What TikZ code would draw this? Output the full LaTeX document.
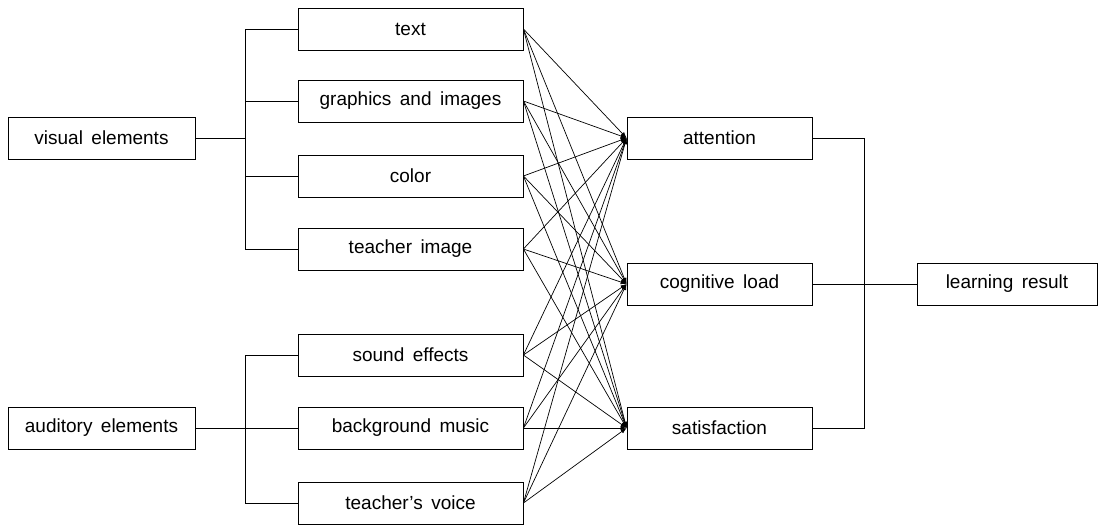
\documentclass[tikz,border=0pt]{standalone}
\usepackage{fontspec}
\setmainfont{Liberation Sans}[WordSpace=1.6]
\usetikzlibrary{arrows.meta}
\tikzset{
  box/.style={draw, line width=0.8pt, minimum height=42pt, inner sep=0pt, font=\fontsize{19}{22}\selectfont},
  link/.style={draw, line width=0.7pt, -{Latex[length=6pt,width=4.5pt]}},
  tree/.style={draw, line width=0.8pt}
}
\begin{document}
\begin{tikzpicture}[x=1pt,y=-1pt]
\useasboundingbox (0,0) rectangle (1099,525);
\node[box, minimum width=187pt] (visual) at (101.5,138) {visual elements};
\node[box, minimum width=187pt] (auditory) at (101.5,428) {auditory elements};

\node[box, minimum width=225pt] (text) at (410.5,29) {text};
\node[box, minimum width=225pt] (graphics) at (410.5,101) {graphics and images};
\node[box, minimum width=225pt] (color) at (410.5,176) {color};
\node[box, minimum width=225pt] (image) at (410.5,249) {teacher image};
\node[box, minimum width=225pt] (sound) at (410.5,355) {sound effects};
\node[box, minimum width=225pt] (music) at (410.5,428) {background music};
\node[box, minimum width=225pt] (voice) at (410.5,503) {teacher's voice};

\node[box, minimum width=185pt] (attention) at (719.5,138) {attention};
\node[box, minimum width=185pt] (load) at (719.5,284) {cognitive load};
\node[box, minimum width=185pt] (satisfaction) at (719.5,428) {satisfaction};

\node[box, minimum width=180pt] (result) at (1007,284) {learning result};

\coordinate (vjoin) at (245,138);
\coordinate (ajoin) at (245,428);
\coordinate (rjoin) at (864,284);

% left brackets
\path[tree] (visual) -- (vjoin);
\path[tree] (text.west) -| (vjoin);
\path[tree] (graphics.west) -| (vjoin);
\path[tree] (color.west) -| (vjoin);
\path[tree] (image.west) -| (vjoin);
\path[tree] (auditory) -- (music);
\path[tree] (sound.west) -| (ajoin);
\path[tree] (voice.west) -| (ajoin);

% right bracket
\path[tree] (attention.east) -| (rjoin);
\path[tree] (satisfaction.east) -| (rjoin);
\path[tree] (load) -- (result);

% elements to effects
\path[link] (text.east) -- (attention.west);
\path[link] (text.east) -- (load.west);
\path[link] (text.east) -- (satisfaction.west);
\path[link] (graphics.east) -- (attention.west);
\path[link] (graphics.east) -- (load.west);
\path[link] (graphics.east) -- (satisfaction.west);
\path[link] (color.east) -- (attention.west);
\path[link] (color.east) -- (load.west);
\path[link] (color.east) -- (satisfaction.west);
\path[link] (image.east) -- (attention.west);
\path[link] (image.east) -- (load.west);
\path[link] (image.east) -- (satisfaction.west);
\path[link] (sound.east) -- (attention.west);
\path[link] (sound.east) -- (load.west);
\path[link] (sound.east) -- (satisfaction.west);
\path[link] (music.east) -- (attention.west);
\path[link] (music.east) -- (load.west);
\path[link] (music.east) -- (satisfaction.west);
\path[link] (voice.east) -- (attention.west);
\path[link] (voice.east) -- (load.west);
\path[link] (voice.east) -- (satisfaction.west);
\end{tikzpicture}
\end{document}
